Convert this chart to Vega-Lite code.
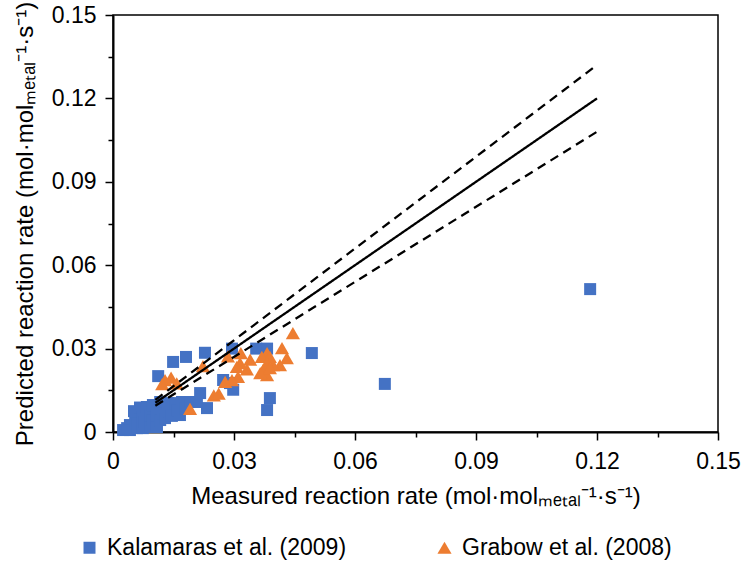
{
  "$schema": "https://vega.github.io/schema/vega-lite/v6.json",
  "autosize": {"type": "none"},
  "width": 605,
  "height": 417,
  "padding": {"left": 113, "top": 15, "right": 27, "bottom": 137},
  "background": "white",
  "config": {
    "font": "Liberation Sans",
    "view": {"stroke": "black", "strokeWidth": 1.5},
    "axis": {
      "grid": false,
      "domainColor": "black",
      "domainWidth": 2,
      "tickColor": "black",
      "tickWidth": 1.5,
      "labelColor": "black",
      "labelFontSize": 23,
      "labelFont": "Liberation Sans",
      "titleFont": "Liberation Sans",
      "titleFontSize": 24,
      "titleFontWeight": "normal",
      "titleColor": "black",
      "labelFlush": false,
      "labelOverlap": false
    },
    "legend": {
      "labelFont": "Liberation Sans",
      "labelFontSize": 23,
      "labelColor": "black",
      "labelLimit": 0
    }
  },
  "datasets": {
    "points": [
      {"measured": 0.0025, "predicted": 0.0007, "source": "Kalamaras et al. (2009)"},
      {"measured": 0.0035, "predicted": 0.0014, "source": "Kalamaras et al. (2009)"},
      {"measured": 0.0042, "predicted": 0.0025, "source": "Kalamaras et al. (2009)"},
      {"measured": 0.0042, "predicted": 0.0007, "source": "Kalamaras et al. (2009)"},
      {"measured": 0.0055, "predicted": 0.0043, "source": "Kalamaras et al. (2009)"},
      {"measured": 0.0060, "predicted": 0.0014, "source": "Kalamaras et al. (2009)"},
      {"measured": 0.0060, "predicted": 0.0036, "source": "Kalamaras et al. (2009)"},
      {"measured": 0.0052, "predicted": 0.0075, "source": "Kalamaras et al. (2009)"},
      {"measured": 0.0067, "predicted": 0.0088, "source": "Kalamaras et al. (2009)"},
      {"measured": 0.0074, "predicted": 0.0014, "source": "Kalamaras et al. (2009)"},
      {"measured": 0.0074, "predicted": 0.0054, "source": "Kalamaras et al. (2009)"},
      {"measured": 0.0079, "predicted": 0.0036, "source": "Kalamaras et al. (2009)"},
      {"measured": 0.0084, "predicted": 0.0090, "source": "Kalamaras et al. (2009)"},
      {"measured": 0.0092, "predicted": 0.0018, "source": "Kalamaras et al. (2009)"},
      {"measured": 0.0092, "predicted": 0.0061, "source": "Kalamaras et al. (2009)"},
      {"measured": 0.0099, "predicted": 0.0043, "source": "Kalamaras et al. (2009)"},
      {"measured": 0.0099, "predicted": 0.0097, "source": "Kalamaras et al. (2009)"},
      {"measured": 0.0109, "predicted": 0.0018, "source": "Kalamaras et al. (2009)"},
      {"measured": 0.0109, "predicted": 0.0061, "source": "Kalamaras et al. (2009)"},
      {"measured": 0.0117, "predicted": 0.0043, "source": "Kalamaras et al. (2009)"},
      {"measured": 0.0117, "predicted": 0.0108, "source": "Kalamaras et al. (2009)"},
      {"measured": 0.0124, "predicted": 0.0068, "source": "Kalamaras et al. (2009)"},
      {"measured": 0.0129, "predicted": 0.0050, "source": "Kalamaras et al. (2009)"},
      {"measured": 0.0136, "predicted": 0.0104, "source": "Kalamaras et al. (2009)"},
      {"measured": 0.0141, "predicted": 0.0072, "source": "Kalamaras et al. (2009)"},
      {"measured": 0.0146, "predicted": 0.0058, "source": "Kalamaras et al. (2009)"},
      {"measured": 0.0154, "predicted": 0.0104, "source": "Kalamaras et al. (2009)"},
      {"measured": 0.0159, "predicted": 0.0079, "source": "Kalamaras et al. (2009)"},
      {"measured": 0.0166, "predicted": 0.0061, "source": "Kalamaras et al. (2009)"},
      {"measured": 0.0171, "predicted": 0.0108, "source": "Kalamaras et al. (2009)"},
      {"measured": 0.0179, "predicted": 0.0086, "source": "Kalamaras et al. (2009)"},
      {"measured": 0.0191, "predicted": 0.0108, "source": "Kalamaras et al. (2009)"},
      {"measured": 0.0208, "predicted": 0.0108, "source": "Kalamaras et al. (2009)"},
      {"measured": 0.0216, "predicted": 0.0140, "source": "Kalamaras et al. (2009)"},
      {"measured": 0.0233, "predicted": 0.0086, "source": "Kalamaras et al. (2009)"},
      {"measured": 0.0112, "predicted": 0.0201, "source": "Kalamaras et al. (2009)"},
      {"measured": 0.0149, "predicted": 0.0252, "source": "Kalamaras et al. (2009)"},
      {"measured": 0.0181, "predicted": 0.0270, "source": "Kalamaras et al. (2009)"},
      {"measured": 0.0228, "predicted": 0.0285, "source": "Kalamaras et al. (2009)"},
      {"measured": 0.0273, "predicted": 0.0187, "source": "Kalamaras et al. (2009)"},
      {"measured": 0.0290, "predicted": 0.0176, "source": "Kalamaras et al. (2009)"},
      {"measured": 0.0298, "predicted": 0.0152, "source": "Kalamaras et al. (2009)"},
      {"measured": 0.0295, "predicted": 0.0300, "source": "Kalamaras et al. (2009)"},
      {"measured": 0.0355, "predicted": 0.0300, "source": "Kalamaras et al. (2009)"},
      {"measured": 0.0382, "predicted": 0.0300, "source": "Kalamaras et al. (2009)"},
      {"measured": 0.0389, "predicted": 0.0122, "source": "Kalamaras et al. (2009)"},
      {"measured": 0.0382, "predicted": 0.0079, "source": "Kalamaras et al. (2009)"},
      {"measured": 0.0493, "predicted": 0.0284, "source": "Kalamaras et al. (2009)"},
      {"measured": 0.0674, "predicted": 0.0173, "source": "Kalamaras et al. (2009)"},
      {"measured": 0.1183, "predicted": 0.0514, "source": "Kalamaras et al. (2009)"},
      {"measured": 0.0446, "predicted": 0.0356, "source": "Grabow et al. (2008)"},
      {"measured": 0.0419, "predicted": 0.0302, "source": "Grabow et al. (2008)"},
      {"measured": 0.0431, "predicted": 0.0266, "source": "Grabow et al. (2008)"},
      {"measured": 0.0414, "predicted": 0.0241, "source": "Grabow et al. (2008)"},
      {"measured": 0.0382, "predicted": 0.0284, "source": "Grabow et al. (2008)"},
      {"measured": 0.0397, "predicted": 0.0241, "source": "Grabow et al. (2008)"},
      {"measured": 0.0372, "predicted": 0.0223, "source": "Grabow et al. (2008)"},
      {"measured": 0.0382, "predicted": 0.0205, "source": "Grabow et al. (2008)"},
      {"measured": 0.0369, "predicted": 0.0270, "source": "Grabow et al. (2008)"},
      {"measured": 0.0389, "predicted": 0.0270, "source": "Grabow et al. (2008)"},
      {"measured": 0.0340, "predicted": 0.0260, "source": "Grabow et al. (2008)"},
      {"measured": 0.0317, "predicted": 0.0284, "source": "Grabow et al. (2008)"},
      {"measured": 0.0285, "predicted": 0.0272, "source": "Grabow et al. (2008)"},
      {"measured": 0.0382, "predicted": 0.0248, "source": "Grabow et al. (2008)"},
      {"measured": 0.0365, "predicted": 0.0212, "source": "Grabow et al. (2008)"},
      {"measured": 0.0332, "predicted": 0.0225, "source": "Grabow et al. (2008)"},
      {"measured": 0.0315, "predicted": 0.0248, "source": "Grabow et al. (2008)"},
      {"measured": 0.0307, "predicted": 0.0234, "source": "Grabow et al. (2008)"},
      {"measured": 0.0310, "predicted": 0.0198, "source": "Grabow et al. (2008)"},
      {"measured": 0.0389, "predicted": 0.0230, "source": "Grabow et al. (2008)"},
      {"measured": 0.0295, "predicted": 0.0187, "source": "Grabow et al. (2008)"},
      {"measured": 0.0278, "predicted": 0.0180, "source": "Grabow et al. (2008)"},
      {"measured": 0.0250, "predicted": 0.0132, "source": "Grabow et al. (2008)"},
      {"measured": 0.0262, "predicted": 0.0138, "source": "Grabow et al. (2008)"},
      {"measured": 0.0223, "predicted": 0.0237, "source": "Grabow et al. (2008)"},
      {"measured": 0.0144, "predicted": 0.0196, "source": "Grabow et al. (2008)"},
      {"measured": 0.0129, "predicted": 0.0187, "source": "Grabow et al. (2008)"},
      {"measured": 0.0122, "predicted": 0.0172, "source": "Grabow et al. (2008)"},
      {"measured": 0.0158, "predicted": 0.0175, "source": "Grabow et al. (2008)"},
      {"measured": 0.0191, "predicted": 0.0083, "source": "Grabow et al. (2008)"}
    ],
    "lines": [
      {"measured": 0.0105, "predicted": 0.0105, "line": "1:1"},
      {"measured": 0.12, "predicted": 0.12, "line": "1:1"},
      {"measured": 0.0105, "predicted": 0.01155, "line": "+10 %"},
      {"measured": 0.12, "predicted": 0.132, "line": "+10 %"},
      {"measured": 0.0105, "predicted": 0.00945, "line": "-10 %"},
      {"measured": 0.12, "predicted": 0.108, "line": "-10 %"}
    ]
  },
  "encoding": {
    "x": {
      "field": "measured",
      "type": "quantitative",
      "scale": {"domain": [0, 0.15], "nice": false, "zero": false},
      "axis": {
        "title": "Measured reaction rate (mol·molₘₑₜₐₗ⁻¹·s⁻¹)",
        "values": [0, 0.015, 0.03, 0.045, 0.06, 0.075, 0.09, 0.105, 0.12, 0.135, 0.15],
        "labelExpr": "round(datum.value*1000) % 30 == 0 ? (datum.value == 0 ? '0' : format(datum.value, '.2f')) : ''",
        "tickSize": {"condition": {"test": "round(datum.value*1000) % 30 == 0", "value": 8}, "value": 5},
        "labelPadding": 10,
        "titlePadding": 11
      }
    },
    "y": {
      "field": "predicted",
      "type": "quantitative",
      "scale": {"domain": [0, 0.15], "nice": false, "zero": false},
      "axis": {
        "title": "Predicted reaction rate (mol·molₘₑₜₐₗ⁻¹·s⁻¹)",
        "values": [0, 0.015, 0.03, 0.045, 0.06, 0.075, 0.09, 0.105, 0.12, 0.135, 0.15],
        "labelExpr": "round(datum.value*1000) % 30 == 0 ? (datum.value == 0 ? '0' : format(datum.value, '.2f')) : ''",
        "tickSize": {"condition": {"test": "round(datum.value*1000) % 30 == 0", "value": 8}, "value": 5},
        "labelPadding": 9,
        "titlePadding": 14
      }
    }
  },
  "layer": [
    {
      "data": {"name": "points"},
      "mark": {"type": "point", "filled": true, "opacity": 1, "strokeWidth": 0},
      "encoding": {
        "shape": {
          "field": "source",
          "type": "nominal",
          "scale": {"domain": ["Kalamaras et al. (2009)", "Grabow et al. (2008)"], "range": ["square", "triangle-up"]},
          "legend": {
            "title": null,
            "orient": "none",
            "legendX": -35,
            "legendY": 521,
            "direction": "horizontal",
            "columns": 2,
            "columnPadding": 86,
            "padding": 0,
            "symbolSize": 150,
            "labelOffset": 6,
            "labelLimit": 0
          }
        },
        "color": {
          "field": "source",
          "type": "nominal",
          "scale": {"domain": ["Kalamaras et al. (2009)", "Grabow et al. (2008)"], "range": ["#4472C4", "#ED7D31"]},
          "legend": {
            "title": null,
            "orient": "none",
            "legendX": -35,
            "legendY": 521,
            "direction": "horizontal",
            "columns": 2,
            "columnPadding": 86,
            "padding": 0,
            "symbolSize": 150,
            "labelOffset": 6,
            "labelLimit": 0
          }
        },
        "size": {
          "field": "source",
          "type": "nominal",
          "scale": {"domain": ["Kalamaras et al. (2009)", "Grabow et al. (2008)"], "range": [144, 200]},
          "legend": null
        }
      }
    },
    {
      "data": {"name": "lines"},
      "mark": {"type": "line", "color": "black", "strokeWidth": 2.3},
      "encoding": {
        "detail": {"field": "line", "type": "nominal"},
        "strokeDash": {
          "field": "line",
          "type": "nominal",
          "scale": {"domain": ["1:1", "+10 %", "-10 %"], "range": [[1, 0], [9, 6], [9, 6]]},
          "legend": null
        }
      }
    },
    {
      "mark": {"type": "text", "align": "left", "baseline": "alphabetic", "fontSize": 24, "font": "Liberation Sans", "color": "black"},
      "encoding": {
        "x": {"datum": 0.1232, "type": "quantitative"},
        "y": {"datum": 0.1299, "type": "quantitative"},
        "text": {"value": "+10 %"}
      }
    },
    {
      "mark": {"type": "text", "align": "left", "baseline": "alphabetic", "fontSize": 24, "font": "Liberation Sans", "color": "black"},
      "encoding": {
        "x": {"datum": 0.1245, "type": "quantitative"},
        "y": {"datum": 0.1054, "type": "quantitative"},
        "text": {"value": "-10 %"}
      }
    }
  ]
}
